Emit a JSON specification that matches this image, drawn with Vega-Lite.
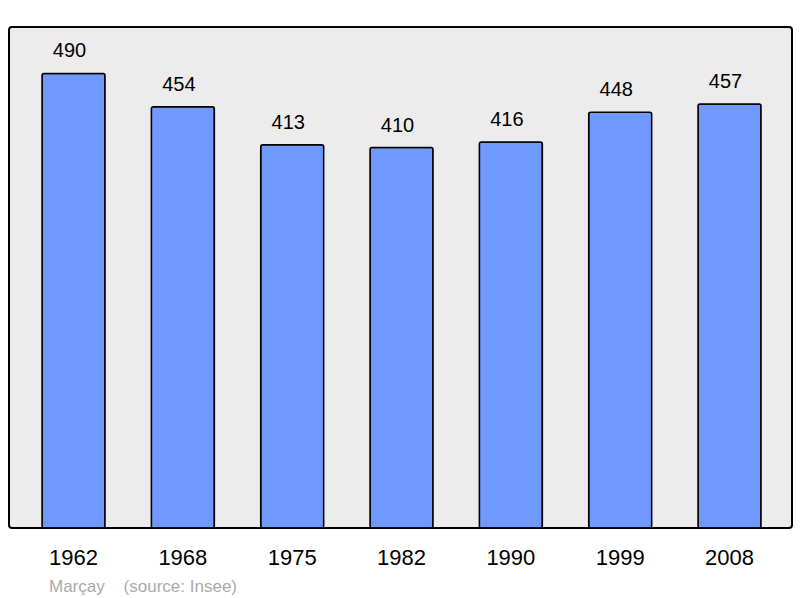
{
  "$schema": "https://vega.github.io/schema/vega-lite/v6.json",
  "width": 783,
  "height": 501,
  "autosize": "none",
  "padding": {"left": 9, "top": 27, "right": 8, "bottom": 70},
  "background": "#ffffff",
  "config": {
    "font": "Liberation Sans",
    "view": {"fill": "#ececec", "stroke": "#000000", "strokeWidth": 2, "cornerRadius": 3}
  },
  "title": {
    "text": "Marçay\u00a0\u00a0\u00a0\u00a0(source: Insee)",
    "orient": "bottom",
    "anchor": "start",
    "frame": "group",
    "dx": 40,
    "offset": 11,
    "fontSize": 17,
    "fontWeight": "normal",
    "color": "#aaaaaa"
  },
  "data": {
    "values": [
      {"year": "1962", "pop": 490},
      {"year": "1968", "pop": 454},
      {"year": "1975", "pop": 413},
      {"year": "1982", "pop": 410},
      {"year": "1990", "pop": 416},
      {"year": "1999", "pop": 448},
      {"year": "2008", "pop": 457}
    ]
  },
  "encoding": {
    "x": {
      "field": "year",
      "type": "nominal",
      "sort": null,
      "scale": {"paddingInner": 0.4238, "paddingOuter": 0.2927, "align": 0.516},
      "axis": {
        "title": null,
        "labelAngle": 0,
        "labelFontSize": 22,
        "labelColor": "#000000",
        "labelPadding": 19,
        "ticks": false,
        "domain": false,
        "grid": false
      }
    },
    "y": {
      "field": "pop",
      "type": "quantitative",
      "scale": {"domain": [0, 540], "nice": false},
      "axis": null
    }
  },
  "layer": [
    {
      "mark": {"type": "bar", "fill": "#7099ff", "stroke": "#000000", "strokeWidth": 1.5, "cornerRadius": 2}
    },
    {
      "mark": {"type": "text", "baseline": "bottom", "dy": -12, "dx": -4, "fontSize": 20, "color": "#000000"},
      "encoding": {"text": {"field": "pop", "type": "quantitative"}}
    }
  ]
}
